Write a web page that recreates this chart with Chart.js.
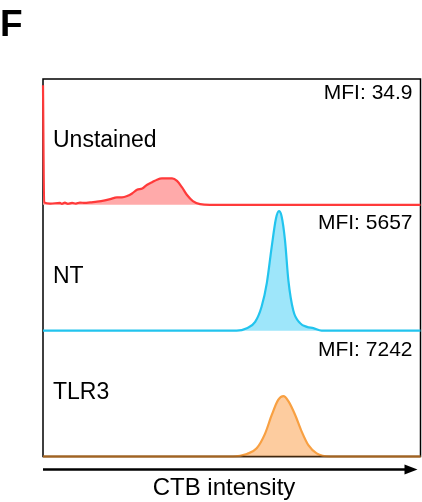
<!DOCTYPE html>
<html>
<head>
<meta charset="utf-8">
<script src="https://cdn.jsdelivr.net/npm/chart.js@4/dist/chart.umd.min.js"></script>
<style>
  html, body { margin: 0; padding: 0; background: #fff; }
  #wrap { width: 422px; height: 502px; }
</style>
</head>
<body>
<div id="wrap"><canvas id="histo"></canvas></div>
<script>
/* dados (canal de intensidade 0-1000, contagem normalizada 0-100) */
var sampleNames = ['Unstained', 'NT', 'TLR3'];
var mfiLabels = ['MFI: 34.9', 'MFI: 5657', 'MFI: 7242'];

var unstainedX = [0, 3, 19, 45, 50, 58, 66, 77, 87, 98, 111, 125, 143, 164, 178, 196, 209, 223, 236, 249, 263, 276, 289, 302, 315, 328, 342, 355, 368, 381, 397, 416, 442, 1000];
var unstainedY = [95, 2, 1, 1.5, 0.8, 1.8, 0.8, 1.5, 1, 1.8, 1.5, 2, 2.5, 3.5, 4.5, 6, 6, 7, 9, 12, 13, 16, 18, 20, 21, 21, 21, 19, 14, 8, 3, 0.5, 0, 0];

var ntX = [0, 513, 540, 562, 579, 593, 606, 617, 625, 632, 641, 650, 663, 681, 699, 716, 738, 1000];
var ntY = [0, 0, 2, 7, 19, 38, 67, 89, 95, 91, 72, 40, 16, 6, 3, 2, 0, 0];

var tlr3X = [0, 504, 540, 566, 588, 606, 623, 637, 650, 668, 685, 703, 725, 760, 1000];
var tlr3Y = [0, 0, 2, 6.5, 18, 33, 45, 48, 44, 33, 20, 9, 2.5, 0, 0];

var lineColors = ['#ff3a3a', '#22c4ee', '#f8a042'];
var fillColors = ['#ffaaaa', '#9ee6fa', '#fdcc9f'];

function pontos(xs, ys) {
  var out = [];
  for (var i = 0; i < xs.length; i++) out.push({ x: xs[i], y: ys[i] });
  return out;
}

var seriesX = [unstainedX, ntX, tlr3X];
var seriesY = [unstainedY, ntY, tlr3Y];
var axisIds = ['yU', 'yN', 'yT'];

var datasets = [];
for (var i = 0; i < 3; i++) {
  datasets.push({
    label: sampleNames[i],
    data: pontos(seriesX[i], seriesY[i]),
    yAxisID: axisIds[i],
    borderColor: lineColors[i],
    backgroundColor: fillColors[i],
    borderWidth: 2.2,
    fill: 'origin',
    clip: false,
    pointRadius: 0,
    cubicInterpolationMode: 'monotone'
  });
}

function eixoY(w) {
  return {
    type: 'linear', position: 'left', stack: 'paineis', stackWeight: 1, weight: w,
    min: 0, max: 100, offset: false,
    ticks: { display: false },
    grid: { display: false, drawTicks: false },
    border: { display: false },
    afterFit: function (s) { s.width = 0; }
  };
}

var FONT = "'Liberation Sans', Arial, Helvetica, sans-serif";
var labelOffsets = [68, 78, 68];
var mfiOffsets = [19.5, 24.5, 25.5];

/* moldura, textos e seta */
var decor = {
  id: 'decor',
  beforeDatasetsDraw: function (chart) {
    var a = chart.chartArea, ctx = chart.ctx;
    ctx.save();
    ctx.strokeStyle = '#000';
    ctx.lineWidth = 1.5;
    ctx.strokeRect(a.left, a.top, a.right - a.left, a.bottom - a.top);
    ctx.restore();
  },
  afterDraw: function (chart) {
    var a = chart.chartArea, ctx = chart.ctx;
    ctx.save();
    // linha de base inferior escurecida
    ctx.strokeStyle = 'rgba(90,50,10,0.55)';
    ctx.lineWidth = 2;
    ctx.beginPath();
    ctx.moveTo(a.left, a.bottom);
    ctx.lineTo(a.right, a.bottom);
    ctx.stroke();

    ctx.fillStyle = '#000';
    ctx.textAlign = 'left';
    ctx.textBaseline = 'alphabetic';
    ctx.font = 'bold 37px ' + FONT;
    ctx.fillText('F', 0, 36);

    for (var i = 0; i < 3; i++) {
      var sc = chart.scales[axisIds[i]];
      ctx.font = '23px ' + FONT;
      ctx.textAlign = 'left';
      ctx.fillText(sampleNames[i], a.left + 10, sc.top + labelOffsets[i]);
      ctx.font = '21px ' + FONT;
      ctx.textAlign = 'right';
      ctx.fillText(mfiLabels[i], a.right - 8, sc.top + mfiOffsets[i]);
    }

    var ay = a.bottom + 13;
    ctx.strokeStyle = '#000';
    ctx.lineWidth = 2.5;
    ctx.beginPath();
    ctx.moveTo(a.left, ay);
    ctx.lineTo(a.right - 10, ay);
    ctx.stroke();
    ctx.beginPath();
    ctx.moveTo(a.right - 3, ay);
    ctx.lineTo(a.right - 16, ay - 5);
    ctx.lineTo(a.right - 16, ay + 5);
    ctx.closePath();
    ctx.fill();

    ctx.font = '24px ' + FONT;
    ctx.textAlign = 'center';
    ctx.fillText('CTB intensity', 224, 495);
    ctx.restore();
  }
};

var ctx = document.getElementById('histo').getContext('2d');
var chart = new Chart(ctx, {
  type: 'line',
  data: { datasets: datasets },
  options: {
    responsive: true,
    maintainAspectRatio: false,
    animation: false,
    layout: { padding: { left: 43, top: 79, right: 1.5, bottom: 45.5 } },
    plugins: { legend: { display: false }, tooltip: { enabled: false } },
    scales: {
      x: { type: 'linear', min: 0, max: 1000, display: false },
      yT: eixoY(1),
      yN: eixoY(2),
      yU: eixoY(3)
    }
  },
  plugins: [decor]
});
</script>
</body>
</html>
